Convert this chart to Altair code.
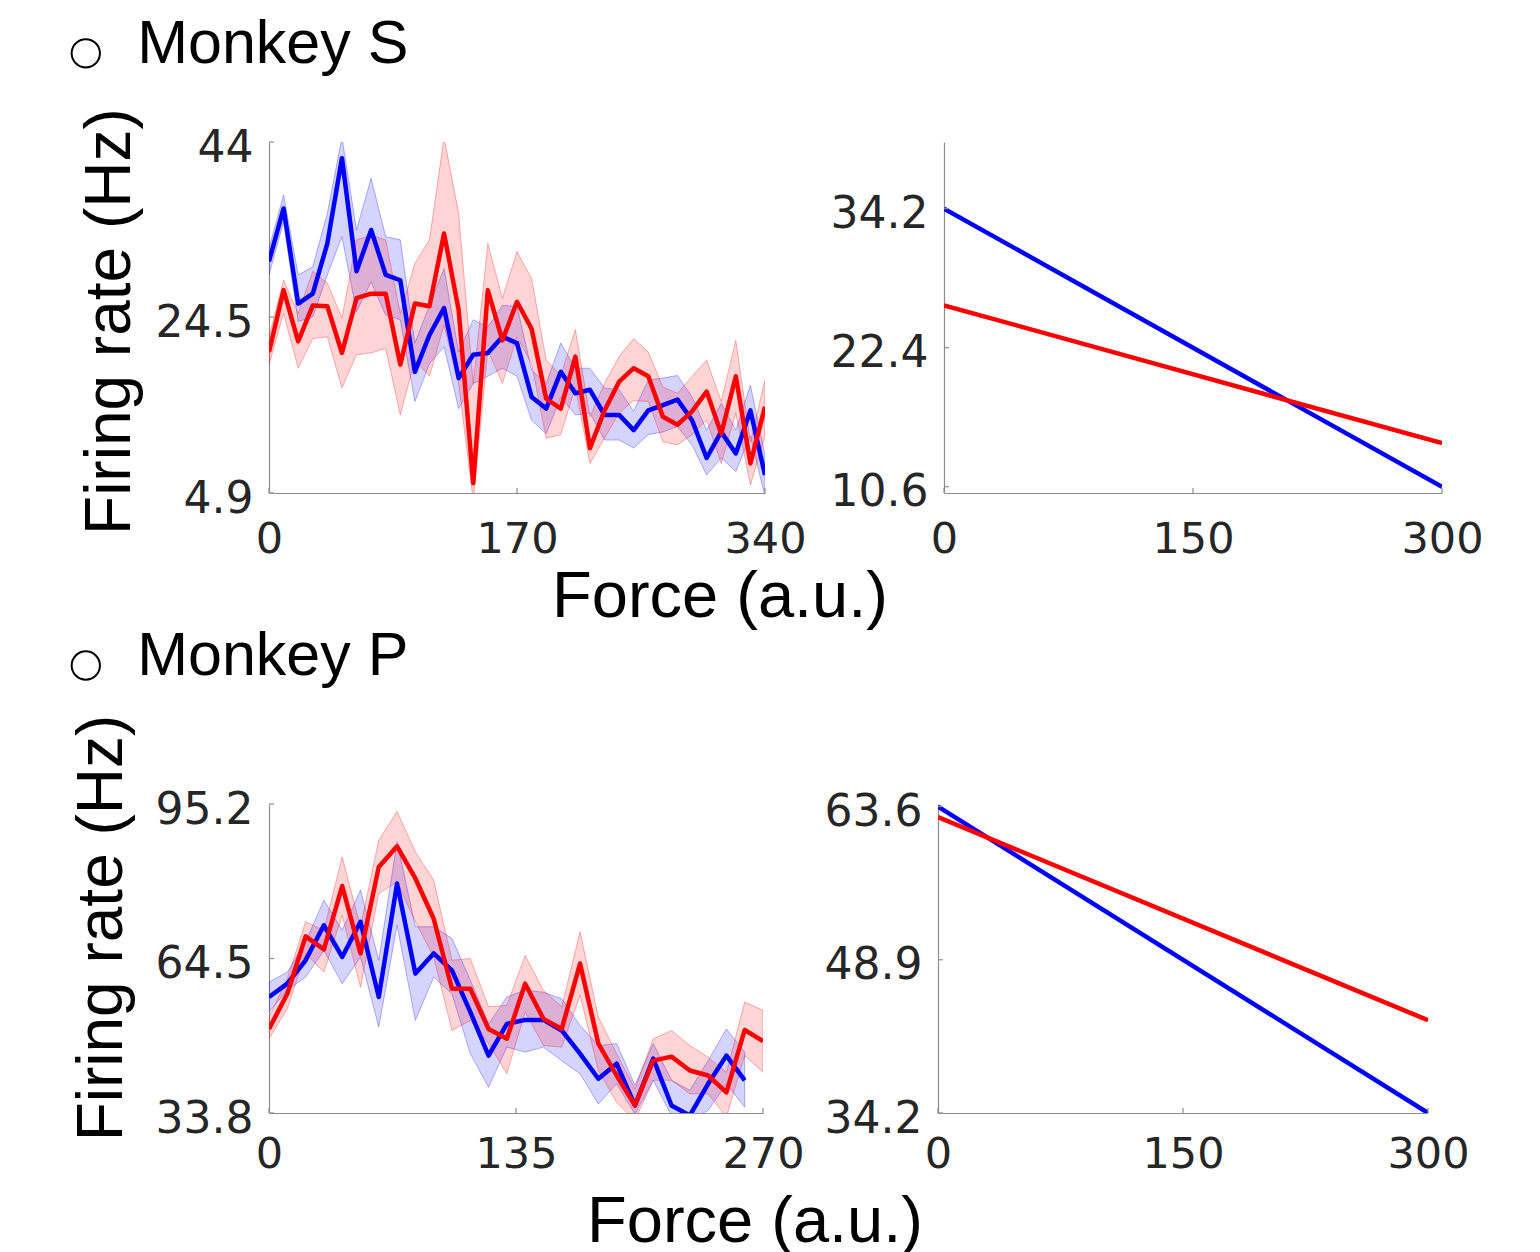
import altair as alt
import pandas as pd

# ---------------- data ----------------
S_FORCE = [0, 10, 20, 30, 40, 50, 60, 70, 80, 90, 100, 110, 120, 130, 140, 150, 160, 170,
           180, 190, 200, 210, 220, 230, 240, 250, 260, 270, 280, 290, 300, 310, 320, 330, 340]
S_BLUE = [30.7, 36.6, 26.0, 27.1, 32.7, 42.2, 29.6, 34.2, 29.2, 28.6, 18.4, 22.5, 25.5, 17.7,
          20.3, 20.5, 22.3, 21.6, 15.6, 14.3, 18.4, 16.0, 16.4, 13.6, 13.6, 11.9, 14.1, 14.7,
          15.3, 13.0, 8.8, 11.7, 9.3, 14.1, 6.9]
S_BLUE_HI = [32.15, 38.1, 29.2, 30.1, 36.05, 44.5, 34.2, 39.95, 33.45, 33.1, 21.6, 25.8, 29.9,
             20.6, 24.2, 23.4, 25.8, 25.7, 18.6, 17.1, 21.6, 18.8, 18.8, 16.6, 16.4, 14.0, 17.5,
             17.7, 18.0, 15.6, 11.9, 14.9, 11.9, 16.9, 9.1]
S_BLUE_LO = [29.2, 35.1, 24.0, 24.5, 29.2, 33.45, 25.1, 28.4, 24.7, 24.2, 15.1, 19.3, 21.2, 14.3,
             17.1, 17.9, 18.8, 17.9, 13.0, 11.5, 15.6, 13.6, 13.8, 10.8, 10.8, 9.9, 11.4, 11.7,
             12.3, 10.25, 6.9, 8.8, 7.3, 11.2, 4.5]
S_RED = [20.6, 27.5, 21.8, 25.8, 25.7, 20.5, 26.6, 27.1, 27.1, 19.2, 26.0, 25.7, 33.8, 25.3,
         6.0, 27.5, 21.9, 26.2, 23.2, 15.4, 14.3, 20.1, 9.9, 14.1, 17.3, 18.8, 17.9, 13.4, 12.5,
         14.0, 16.2, 11.5, 17.9, 8.2, 14.5]
S_RED_HI = [22.3, 28.6, 24.9, 29.6, 28.3, 24.4, 33.1, 33.6, 33.1, 24.9, 30.5, 33.1, 44.5, 36.05,
            17.1, 32.7, 26.6, 31.8, 28.8, 19.7, 18.0, 23.1, 13.4, 17.1, 20.1, 22.1, 20.6, 16.7,
            16.0, 17.9, 19.7, 15.1, 21.9, 10.6, 17.5]
S_RED_LO = [19.2, 24.9, 18.8, 22.1, 22.3, 16.6, 20.3, 20.5, 21.0, 13.6, 19.7, 17.9, 23.6, 17.1,
            4.0, 20.8, 17.1, 22.3, 19.3, 11.0, 11.4, 16.7, 8.2, 11.0, 13.8, 15.2, 15.1, 10.6,
            10.25, 11.4, 13.0, 8.2, 13.8, 5.8, 11.2]

P_FORCE = [0, 10, 20, 30, 40, 50, 60, 70, 80, 90, 100, 110, 120, 130, 140, 150, 160, 170, 180,
           190, 200, 210, 220, 230, 240, 250, 260, 270]
P_BLUE_FORCE = [0, 10, 20, 30, 40, 50, 60, 70, 80, 90, 100, 110, 120, 130, 140, 150, 160, 170,
                180, 190, 200, 210, 220, 230, 240, 250, 260]
P_BLUE = [56.85, 59.5, 64.15, 71.1, 64.8, 71.8, 56.85, 79.4, 61.5, 65.5, 62.15, 53.9, 45.2, 51.5,
          52.3, 52.3, 50.2, 45.6, 40.6, 43.6, 35.3, 44.6, 35.3, 33.3, 39.6, 45.2, 40.3]
P_BLUE_HI = [59.8, 61.8, 67.8, 76.1, 70.1, 78.1, 64.15, 87.7, 70.8, 70.8, 68.5, 60.2, 51.5, 56.85,
             58.2, 57.8, 56.5, 51.2, 47.2, 47.6, 39.3, 47.6, 40.3, 38.3, 44.2, 50.5, 45.9]
P_BLUE_LO = [53.9, 58.2, 60.8, 66.1, 59.5, 64.8, 50.9, 71.1, 52.2, 60.8, 57.5, 45.6, 38.9, 46.9,
             45.9, 46.9, 44.2, 41.6, 35.6, 39.6, 33.6, 40.3, 33.3, 32.5, 34.3, 39.6, 34.95]
P_RED = [50.5, 57.5, 68.9, 66.3, 78.9, 65.5, 82.7, 86.8, 80.4, 72.4, 58.5, 58.5, 50.5, 48.55,
         59.5, 52.5, 50.5, 63.5, 47.6, 41.25, 35.3, 44.2, 45.0, 42.25, 41.25, 37.9, 50.3, 48.1]
P_RED_HI = [52.9, 60.5, 71.8, 70.1, 84.7, 70.8, 88.0, 93.7, 85.7, 80.1, 64.15, 64.5, 54.9, 55.2,
            65.1, 58.2, 54.9, 69.8, 52.9, 45.6, 38.6, 48.55, 50.2, 47.2, 44.9, 41.9, 55.85, 54.2]
P_RED_LO = [48.55, 54.5, 65.5, 61.8, 73.1, 58.8, 77.4, 79.7, 71.8, 64.8, 50.2, 52.2, 47.6, 41.6,
            53.9, 47.2, 46.9, 57.2, 42.25, 35.9, 32.3, 40.3, 40.3, 37.6, 37.6, 33.0, 45.2, 41.9]

FIT_FORCE = [0, 300]
S_FIT_BLUE = [34.2, 10.6]
S_FIT_RED = [26.0, 14.3]
P_FIT_BLUE = [63.6, 34.2]
P_FIT_RED = [62.6, 43.1]

S_X_TICKS = [0, 170, 340]
S_Y_TICKS = [4.9, 24.5, 44]
FIT_X_TICKS = [0, 150, 300]
S_FIT_Y_TICKS = [10.6, 22.4, 34.2]
P_X_TICKS = [0, 135, 270]
P_Y_TICKS = [33.8, 64.5, 95.2]
P_FIT_Y_TICKS = [34.2, 48.9, 63.6]

S_X_DOMAIN = [0, 340]
S_Y_DOMAIN = [4.9, 44]
S_FIT_Y_DOMAIN = [10.07, 39.86]
FIT_X_DOMAIN = [0, 300]
P_X_DOMAIN = [0, 270]
P_Y_DOMAIN = [33.8, 95.2]
P_FIT_Y_DOMAIN = [34.2, 63.85]

LABEL_S = ["Monkey S"]
LABEL_P = ["Monkey P"]
Y_TITLE = ["Firing rate (Hz)"]
X_TITLE = ["Force (a.u.)"]

# ---------------- styling ----------------
FONT = "Liberation Sans"
TICK_FONT = "DejaVu Sans"
BLUE = "#0000ff"
RED = "#ff0000"
AXIS_GRAY = "#8c8c8c"
LABEL_COLOR = "#262626"
LABEL_EXPR = "'' + datum.value"


def series_df(force, rate, lo=None, hi=None):
    d = {"force": force, "rate": rate}
    if lo is not None:
        d["lo"] = lo
        d["hi"] = hi
    return pd.DataFrame(d)


def make_panel(width, height, xdom, ydom, xticks, yticks, xpad, bands, lines, extras):
    xs = alt.Scale(domain=xdom, nice=False, zero=False)
    ys = alt.Scale(domain=ydom, nice=False, zero=False)
    xaxis = alt.Axis(values=xticks, title=None, grid=False, ticks=False, tickSize=0,
                     domainColor=AXIS_GRAY, domainWidth=1.2, labelFont=TICK_FONT,
                     labelFontSize=43, labelColor=LABEL_COLOR, labelPadding=xpad,
                     labelFlush=False, labelOverlap=False, labelExpr=LABEL_EXPR)
    yaxis = alt.Axis(values=yticks, title=None, grid=False, ticks=False, tickSize=0,
                     domainColor=AXIS_GRAY, domainWidth=1.2, labelFont=TICK_FONT,
                     labelFontSize=44, labelColor=LABEL_COLOR, labelPadding=16,
                     labelOffset=6, labelFlush=False, labelOverlap=False,
                     labelExpr=LABEL_EXPR)

    def X():
        return alt.X("force:Q", scale=xs, axis=xaxis)

    def Y(field):
        return alt.Y(f"{field}:Q", scale=ys, axis=yaxis)

    layers = []
    for df, color in bands:
        layers.append(
            alt.Chart(df).mark_area(fill=color, fillOpacity=0.17, stroke=color,
                                    strokeOpacity=0.3, strokeWidth=1, clip=True)
            .encode(x=X(), y=Y("hi"), y2="lo:Q"))
    for df, color in lines:
        layers.append(
            alt.Chart(df).mark_line(color=color, strokeWidth=4.5, strokeJoin="round", clip=True)
            .encode(x=X(), y=Y("rate")))
    layers.append(
        alt.Chart(pd.DataFrame({"force": xticks}))
        .mark_rule(color=AXIS_GRAY, strokeWidth=1.2)
        .encode(x=X(), y=alt.value(height), y2=alt.value(height - 5)))
    layers.append(
        alt.Chart(pd.DataFrame({"rate": yticks}))
        .mark_rule(color=AXIS_GRAY, strokeWidth=1.2)
        .encode(y=Y("rate"), x=alt.value(0), x2=alt.value(5)))
    layers += extras
    return alt.layer(*layers).properties(width=width, height=height)


def text_layer(txt, x, y, size, align="left", angle=0):
    kw = dict(font=FONT, fontSize=size, align=align, baseline="alphabetic", color="black")
    if angle:
        kw["angle"] = angle
    return alt.Chart(pd.DataFrame({"t": txt})).mark_text(**kw).encode(
        x=alt.value(x), y=alt.value(y), text="t:N")


def bullet(x, y):
    return alt.Chart(pd.DataFrame({"b": [0]})).mark_point(
        shape="circle", filled=False, size=800, stroke="black", strokeWidth=2, opacity=1
    ).encode(x=alt.value(x), y=alt.value(y))


TOP_H = 351
BOT_H = 309

tl = make_panel(
    496, TOP_H, S_X_DOMAIN, S_Y_DOMAIN, S_X_TICKS, S_Y_TICKS, 25,
    bands=[(series_df(S_FORCE, S_BLUE, S_BLUE_LO, S_BLUE_HI), BLUE),
           (series_df(S_FORCE, S_RED, S_RED_LO, S_RED_HI), RED)],
    lines=[(series_df(S_FORCE, S_BLUE), BLUE), (series_df(S_FORCE, S_RED), RED)],
    extras=[bullet(-183.2, -88.7),
            text_layer(LABEL_S, -131.8, -78.7, 61),
            text_layer(Y_TITLE, -139, 179.6, 64, align="center", angle=270),
            text_layer(X_TITLE, 451, 475, 65, align="center")])

tr = make_panel(
    498, TOP_H, FIT_X_DOMAIN, S_FIT_Y_DOMAIN, FIT_X_TICKS, S_FIT_Y_TICKS, 25,
    bands=[],
    lines=[(series_df(FIT_FORCE, S_FIT_BLUE), BLUE), (series_df(FIT_FORCE, S_FIT_RED), RED)],
    extras=[])

bl = make_panel(
    494, BOT_H, P_X_DOMAIN, P_Y_DOMAIN, P_X_TICKS, P_Y_TICKS, 20,
    bands=[(series_df(P_BLUE_FORCE, P_BLUE, P_BLUE_LO, P_BLUE_HI), BLUE),
           (series_df(P_FORCE, P_RED, P_RED_LO, P_RED_HI), RED)],
    lines=[(series_df(P_BLUE_FORCE, P_BLUE), BLUE), (series_df(P_FORCE, P_RED), RED)],
    extras=[bullet(-183.2, -138.5),
            text_layer(LABEL_P, -131.8, -129, 61),
            text_layer(Y_TITLE, -147, 124, 64, align="center", angle=270),
            text_layer(X_TITLE, 486, 438, 65, align="center")])

br = make_panel(
    490, BOT_H, FIT_X_DOMAIN, P_FIT_Y_DOMAIN, FIT_X_TICKS, P_FIT_Y_TICKS, 20,
    bands=[],
    lines=[(series_df(FIT_FORCE, P_FIT_BLUE), BLUE), (series_df(FIT_FORCE, P_FIT_RED), RED)],
    extras=[])

row1 = alt.hconcat(tl, tr, spacing=179, bounds="flush")
row2 = alt.hconcat(bl, br, spacing=175, bounds="flush")

# with flush bounds the nested row counts as zero height, so the spacing covers row 1 too
chart = (
    alt.vconcat(row1, row2, spacing=TOP_H + 311, bounds="flush")
    .properties(padding={"left": 59, "top": 6, "right": 10, "bottom": 10},
                background="white")
    .configure_view(stroke=None)
)

chart.save("out.html", embed_options={"renderer": "svg", "actions": False})
